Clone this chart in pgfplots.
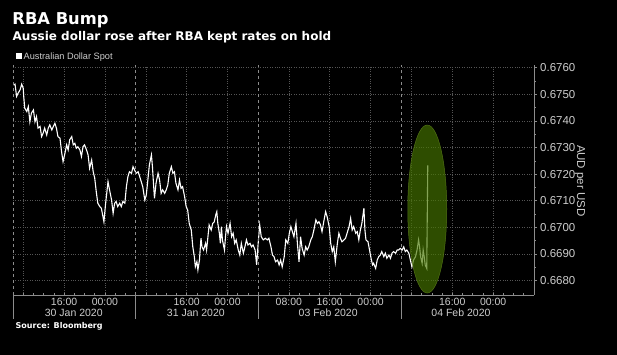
\documentclass[border=0pt]{standalone}
\usepackage{pgfplots}
\pgfplotsset{compat=1.18}
\usepackage{fontspec}
\setmainfont{Liberation Sans}
\newfontfamily\dejavu{DejaVu Sans}
\definecolor{gridgray}{RGB}{85,85,85}
\definecolor{axisgray}{RGB}{140,140,140}
\definecolor{labelgray}{RGB}{205,205,205}
\definecolor{ellfill}{RGB}{70,118,0}
\definecolor{elldraw}{RGB}{80,112,20}
\pgfplotstableread{
x y
0.1 0.67535
0.4 0.67538
0.7 0.67492
1.0 0.67504
1.4 0.67517
1.7 0.67538
2.0 0.67523
2.1 0.67492
2.3 0.67448
2.7 0.67435
3.0 0.67454
3.3 0.67397
3.6 0.67429
4.0 0.67441
4.3 0.67397
4.6 0.67416
4.9 0.67373
5.3 0.67379
5.6 0.67341
5.9 0.67354
6.2 0.67373
6.6 0.67347
6.9 0.67373
7.2 0.67385
7.6 0.67366
7.9 0.67379
8.2 0.67391
8.5 0.67373
8.8 0.67341
9.2 0.67335
9.5 0.67285
9.8 0.67247
10.1 0.67272
10.5 0.67310
10.8 0.67291
11.1 0.67329
11.5 0.67341
11.8 0.67310
12.1 0.67316
12.4 0.67297
12.7 0.67303
13.1 0.67291
13.4 0.67266
13.7 0.67303
14.0 0.67310
14.4 0.67291
14.7 0.67272
15.0 0.67222
15.4 0.67253
15.7 0.67209
16.0 0.67185
16.3 0.67134
16.6 0.67091
17.0 0.67078
17.3 0.67072
17.8 0.67021
18.1 0.67084
18.6 0.67172
18.9 0.67141
19.3 0.67103
19.6 0.67053
19.9 0.67091
20.2 0.67097
20.5 0.67078
20.9 0.67091
21.2 0.67078
21.5 0.67097
21.9 0.67091
22.2 0.67153
22.5 0.67191
22.8 0.67209
23.2 0.67203
23.5 0.67228
23.8 0.67216
24.1 0.67203
24.5 0.67209
24.8 0.67191
25.1 0.67172
25.4 0.67153
25.8 0.67103
26.1 0.67122
26.4 0.67178
26.7 0.67235
27.1 0.67272
27.3 0.67228
27.5 0.67166
27.7 0.67109
28.0 0.67166
28.4 0.67203
28.7 0.67178
29.0 0.67128
29.3 0.67141
29.7 0.67128
30.0 0.67141
30.3 0.67159
30.6 0.67203
31.0 0.67228
31.3 0.67203
31.6 0.67209
31.9 0.67166
32.3 0.67141
32.6 0.67178
32.9 0.67147
33.2 0.67153
33.6 0.67115
33.9 0.67078
34.2 0.67065
34.5 0.67015
34.9 0.66990
35.2 0.66927
35.5 0.66890
35.7 0.66852
36.0 0.66871
36.2 0.66840
36.5 0.66877
36.8 0.66959
37.0 0.66927
37.3 0.66915
37.7 0.66940
37.9 0.66915
38.1 0.66953
38.4 0.67009
38.8 0.66990
39.1 0.67015
39.4 0.67021
39.7 0.67047
39.9 0.67059
40.1 0.67015
40.4 0.66978
40.6 0.66940
40.8 0.67003
41.0 0.66953
41.4 0.66915
41.6 0.66965
41.8 0.67003
42.1 0.66978
42.5 0.67015
42.8 0.66965
43.1 0.66978
43.4 0.66940
43.7 0.66953
44.1 0.66915
44.4 0.66896
44.7 0.66940
45.1 0.66903
45.4 0.66927
45.7 0.66953
46.0 0.66934
46.4 0.66940
46.7 0.66927
47.0 0.66934
47.4 0.66915
47.7 0.66859
48.0 0.66940
48.3 0.67009
48.6 0.66965
49.0 0.66953
49.4 0.66959
49.8 0.66953
50.1 0.66959
50.5 0.66927
50.8 0.66896
51.1 0.66890
51.4 0.66871
51.8 0.66877
52.1 0.66859
52.4 0.66877
52.7 0.66852
53.1 0.66890
53.4 0.66953
53.8 0.66940
54.1 0.66978
54.4 0.67003
54.7 0.66984
55.0 0.66965
55.4 0.67015
55.7 0.66934
56.0 0.66871
56.3 0.66965
56.6 0.66921
57.0 0.66896
57.3 0.66927
57.6 0.66915
57.9 0.66927
58.3 0.66953
58.6 0.66965
58.9 0.66990
59.3 0.67028
59.6 0.67015
59.9 0.67021
60.2 0.67009
60.5 0.66984
60.9 0.67028
61.2 0.67059
61.5 0.67040
61.9 0.67003
62.2 0.66940
62.5 0.66909
62.8 0.66927
63.1 0.66871
63.5 0.66940
63.8 0.66978
64.1 0.66959
64.4 0.66946
64.8 0.66953
65.1 0.66959
65.4 0.66978
65.8 0.67003
66.1 0.67034
66.4 0.66990
66.7 0.67003
67.1 0.66978
67.4 0.66984
67.7 0.66953
68.0 0.66990
68.3 0.67015
68.7 0.67072
68.9 0.66990
69.1 0.66953
69.5 0.66946
69.8 0.66915
70.1 0.66884
70.4 0.66859
70.6 0.66865
71.0 0.66846
71.3 0.66877
71.6 0.66890
71.9 0.66896
72.2 0.66909
72.6 0.66890
72.9 0.66903
73.2 0.66884
73.6 0.66896
73.9 0.66884
74.2 0.66903
74.5 0.66909
74.9 0.66903
75.2 0.66915
75.5 0.66915
75.8 0.66921
76.2 0.66915
76.5 0.66927
76.8 0.66909
77.1 0.66915
77.5 0.66903
77.8 0.66877
78.1 0.66852
78.4 0.66877
78.8 0.66890
79.1 0.66915
79.3 0.66940
79.4 0.66953
79.6 0.66927
79.8 0.66890
80.1 0.66865
80.3 0.66915
80.5 0.66890
80.7 0.66859
81.0 0.66846
81.2 0.67233
}\audspot
\begin{document}
\begin{tikzpicture}
\fill[black] (0pt,0pt) rectangle (617pt,355pt);
\path[use as bounding box] (0pt,0pt) rectangle (617pt,355pt);
\node[anchor=base west, inner sep=0pt, text=white, font=\dejavu\bfseries\fontsize{16.3}{19}\selectfont] at (12.3pt,330pt) {RBA Bump};
\node[anchor=base west, inner sep=0pt, text=white, font=\dejavu\bfseries\fontsize{12}{14}\selectfont] at (12.5pt,314.5pt) {Aussie dollar rose after RBA kept rates on hold};
\fill[white] (16pt,295.7pt) rectangle (22pt,301.7pt);
\node[anchor=base west, inner sep=0pt, text=labelgray, font=\fontsize{9.2}{11}\selectfont] at (23.5pt,295.7pt) {Australian Dollar Spot};
\node[anchor=base west, inner sep=0pt, text=white, font=\dejavu\bfseries\fontsize{8}{10}\selectfont] at (15.5pt,26.7pt) {Source: Bloomberg};
\node[rotate=-90, inner sep=0pt, text=labelgray, font=\fontsize{11.5}{13}\selectfont] at (580pt,174.2pt) {AUD per USD};
\begin{axis}[
  at={(13pt,60pt)}, anchor=south west,
  scale only axis, width=521pt, height=230pt,
  xmin=0, xmax=102, ymin=0.66746, ymax=0.67610,
  clip=false,
  axis x line*=bottom, axis y line*=right,
  axis line style={draw=axisgray, line width=0.6pt, -},
  tick align=outside, major tick length=3pt, minor tick length=1.8pt,
  xtick={2,10,18,26,34,42,54,62,70,78,86,94},
  xticklabels={,16:00,00:00,,16:00,00:00,08:00,16:00,00:00,,16:00,00:00},
  xtick style={draw=none},
  xticklabel style={text=labelgray, font=\fontsize{10.5}{12}\selectfont, inner sep=0pt},
  ytick={0.668,0.669,0.670,0.671,0.672,0.673,0.674,0.675,0.676},
  yticklabels={0.6680,0.6690,0.6700,0.6710,0.6720,0.6730,0.6740,0.6750,0.6760},
  minor y tick num=1,
  ytick pos=right, yticklabel pos=right,
  ytick style={draw=axisgray, line width=0.6pt},
  minor y tick style={draw=axisgray, line width=0.6pt},
  yticklabel style={text=labelgray, font=\fontsize{11.5}{13}\selectfont, inner sep=0pt, xshift=3pt, anchor=west},
  grid=major,
  major grid style={draw=gridgray, dotted, line width=0.6pt},
]
\addplot[white, line width=1.1pt] table[x=x, y=y] {\audspot};
\pgfplotsinvokeforeach{0,2,...,100}{
  \draw[axisgray, line width=0.6pt] (axis cs:#1,0.66746) -- ++(0pt,2pt);
}
\pgfplotsinvokeforeach{0,24,48,76}{
  \draw[axisgray, line width=0.6pt, dash pattern=on 3pt off 3pt] (axis cs:#1,0.66746) -- (axis cs:#1,0.67610);
  \draw[axisgray, line width=0.6pt] (axis cs:#1,0.66746) -- ++(0pt,-24pt);
}
\node[anchor=base, inner sep=0pt, text=labelgray, font=\fontsize{10.5}{12}\selectfont] at ([yshift=-21.7pt]axis cs:11.9,0.66746) {30 Jan 2020};
\node[anchor=base, inner sep=0pt, text=labelgray, font=\fontsize{10.5}{12}\selectfont] at ([yshift=-21.7pt]axis cs:35.8,0.66746) {31 Jan 2020};
\node[anchor=base, inner sep=0pt, text=labelgray, font=\fontsize{10.5}{12}\selectfont] at ([yshift=-21.7pt]axis cs:61.7,0.66746) {03 Feb 2020};
\node[anchor=base, inner sep=0pt, text=labelgray, font=\fontsize{10.5}{12}\selectfont] at ([yshift=-21.7pt]axis cs:87.7,0.66746) {04 Feb 2020};
\fill[ellfill, fill opacity=0.66] (axis cs:81.1,0.67069) ellipse [x radius=19.5pt, y radius=84pt];
\draw[elldraw, line width=0.5pt] (axis cs:81.1,0.67069) ellipse [x radius=19.5pt, y radius=84pt];
\end{axis}
\end{tikzpicture}
\end{document}
